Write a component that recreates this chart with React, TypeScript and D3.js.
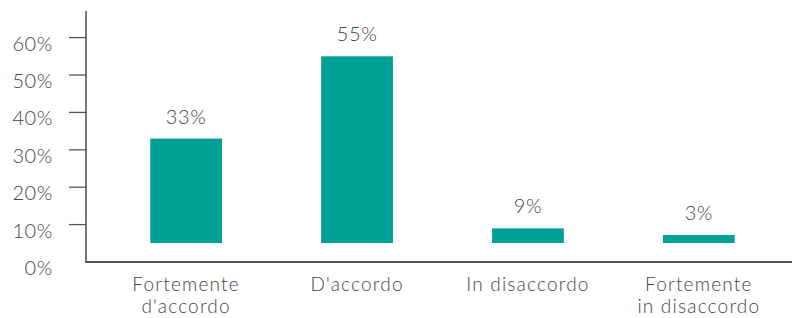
import React from 'react';
import * as d3 from 'd3';

const categories = [
  ['Fortemente', "d'accordo"],
  ["D'accordo"],
  ['In disaccordo'],
  ['Fortemente', 'in disaccordo'],
];
const values = [33, 55, 9, 3];
const yTicks = [0, 10, 20, 30, 40, 50, 60];

const W = 792;
const H = 318;
const teal = '#00a096';
const textColor = '#444';
const axisColor = '#555';
const font = 'Lato, "Open Sans", sans-serif';

export default function App() {
  const keys = categories.map(c => c.join(' '));

  const x = d3
    .scaleBand<string>()
    .domain(keys)
    .range([93, W])
    .paddingInner(0.58)
    .paddingOuter(0.335);

  const y = d3.scaleLinear().domain([0, 60]).range([262, 37.6]);

  const axisX = 86;
  const baseY = y(0);
  // bars float a little above the axis, with a minimum visible height
  const barBottom = baseY - 19;
  const minBar = 8;

  const txt = { fontSize: 20, fontWeight: 300, fill: textColor, letterSpacing: 0.6 };

  return (
    <svg
      width={W}
      height={H}
      style={{ position: 'absolute', left: 0, top: 0, display: 'block', background: '#fff' }}
      fontFamily={font}
    >
      {/* bars */}
      {values.map((v, i) => {
        const top = Math.min(y(v), barBottom - minBar);
        const cx = (x(keys[i]) || 0) + x.bandwidth() / 2;
        return (
          <g key={keys[i]}>
            <rect
              x={x(keys[i])}
              y={top}
              width={x.bandwidth()}
              height={barBottom - top}
              fill={teal}
            />
            <text x={cx} y={top - 15} textAnchor="middle" {...txt}>
              {v}%
            </text>
          </g>
        );
      })}

      {/* y axis */}
      <line x1={axisX} x2={axisX} y1={11} y2={baseY} stroke={axisColor} strokeWidth={1.6} />
      {yTicks.map(t => (
        <g key={t} transform={`translate(0,${y(t)})`}>
          {t > 0 && <line x1={69} x2={axisX} stroke={axisColor} strokeWidth={1.3} />}
          <text x={53} dy={13} textAnchor="end" {...txt}>
            {t}%
          </text>
        </g>
      ))}

      {/* x axis */}
      <line x1={axisX - 0.8} x2={W} y1={baseY} y2={baseY} stroke={axisColor} strokeWidth={2.2} />
      {categories.map((lines, i) => {
        const cx = (x(keys[i]) || 0) + x.bandwidth() / 2;
        return (
          <text
            key={keys[i]}
            x={cx}
            y={291}
            textAnchor="middle"
            {...txt}
            fontSize={19}
            letterSpacing={1.2}
          >
            {lines.map((l, j) => (
              <tspan key={j} x={cx} dy={j === 0 ? 0 : 22}>
                {l}
              </tspan>
            ))}
          </text>
        );
      })}
    </svg>
  );
}
